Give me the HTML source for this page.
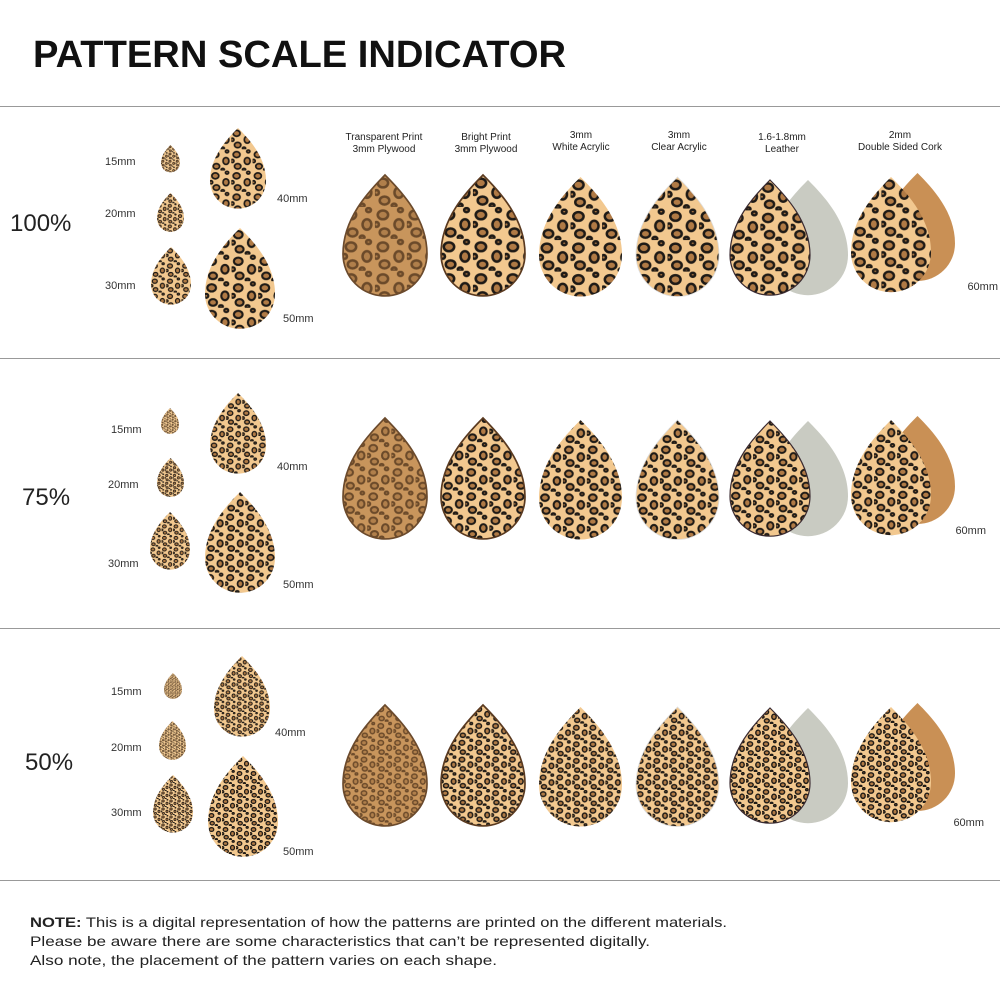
<!DOCTYPE html>
<html><head><meta charset="utf-8"><style>
body{margin:0;width:1000px;height:1000px;background:#fff;overflow:hidden;font-family:"Liberation Sans",sans-serif;}
</style></head><body>
<svg width="1000" height="1000" viewBox="0 0 1000 1000" xmlns="http://www.w3.org/2000/svg" font-family="Liberation Sans, sans-serif">
<defs>
<path id="d" d="M50 0 C30 20 0 52 0 94 A50 50 0 0 0 100 94 C100 52 70 20 50 0 Z"/>
<g id="spots">
<ellipse cx="10" cy="10" rx="6.5" ry="5.5"/><ellipse cx="30" cy="22" rx="5.5" ry="6.5"/><ellipse cx="12" cy="32" rx="6" ry="5"/><ellipse cx="32" cy="4" rx="3" ry="2.5"/><ellipse cx="24" cy="38" rx="3" ry="2"/><ellipse cx="2" cy="22" rx="3" ry="3"/>
</g>
<pattern id="pA" patternUnits="userSpaceOnUse" width="40" height="40" patternTransform="scale(0.95)">
<rect width="40" height="40" fill="#f2c88f"/><use href="#spots" fill="#b07a45" stroke="#1e1a16" stroke-width="3.2"/></pattern>
<pattern id="pB" patternUnits="userSpaceOnUse" width="40" height="40" patternTransform="scale(0.72)">
<rect width="40" height="40" fill="#f2c88f"/><use href="#spots" fill="#b07a45" stroke="#1e1a16" stroke-width="3.4"/></pattern>
<pattern id="pC" patternUnits="userSpaceOnUse" width="40" height="40" patternTransform="scale(0.5)">
<rect width="40" height="40" fill="#f2c88f"/><use href="#spots" fill="#b07a45" stroke="#1e1a16" stroke-width="3.6"/></pattern>
<pattern id="tA" patternUnits="userSpaceOnUse" width="40" height="40" patternTransform="scale(0.95)">
<rect width="40" height="40" fill="#c8955c"/><use href="#spots" fill="#b07f4b" stroke="#6b4a2a" stroke-width="3.2"/></pattern>
<pattern id="tB" patternUnits="userSpaceOnUse" width="40" height="40" patternTransform="scale(0.72)">
<rect width="40" height="40" fill="#c8955c"/><use href="#spots" fill="#b07f4b" stroke="#6b4a2a" stroke-width="3.4"/></pattern>
<pattern id="tC" patternUnits="userSpaceOnUse" width="40" height="40" patternTransform="scale(0.5)">
<rect width="40" height="40" fill="#c8955c"/><use href="#spots" fill="#b07f4b" stroke="#6b4a2a" stroke-width="3.6"/></pattern>
</defs>

<text x="33" y="67" font-size="38" font-weight="bold" fill="#111" textLength="533" lengthAdjust="spacingAndGlyphs">PATTERN SCALE INDICATOR</text>
<g stroke="#999" stroke-width="1"><line x1="0" y1="106.5" x2="1000" y2="106.5"/><line x1="0" y1="358.5" x2="1000" y2="358.5"/><line x1="0" y1="628.5" x2="1000" y2="628.5"/><line x1="0" y1="880.5" x2="1000" y2="880.5"/></g>

<g font-size="10" fill="#222" text-anchor="middle">
<text x="384" y="140">Transparent Print</text><text x="384" y="152">3mm Plywood</text>
<text x="486" y="140">Bright Print</text><text x="486" y="152">3mm Plywood</text>
<text x="581" y="138">3mm</text><text x="581" y="150">White Acrylic</text>
<text x="679" y="138">3mm</text><text x="679" y="150">Clear Acrylic</text>
<text x="782" y="140">1.6-1.8mm</text><text x="782" y="152">Leather</text>
<text x="900" y="138">2mm</text><text x="900" y="150">Double Sided Cork</text>
</g>

<g font-size="24" fill="#222"><text x="10" y="231">100%</text><text x="22" y="505">75%</text><text x="25" y="770">50%</text></g>
<g font-size="11" fill="#333">
<text x="105" y="165">15mm</text><text x="105" y="217">20mm</text><text x="105" y="289">30mm</text><text x="277" y="202">40mm</text><text x="283" y="322">50mm</text><text x="998" y="290" text-anchor="end">60mm</text>
<text x="111" y="433">15mm</text><text x="108" y="488">20mm</text><text x="108" y="567">30mm</text><text x="277" y="470">40mm</text><text x="283" y="588">50mm</text><text x="986" y="534" text-anchor="end">60mm</text>
<text x="111" y="695">15mm</text><text x="111" y="751">20mm</text><text x="111" y="816">30mm</text><text x="275" y="736">40mm</text><text x="283" y="855">50mm</text><text x="984" y="826" text-anchor="end">60mm</text>
</g>

<!-- ROW 1 -->
<g>
<use href="#d" fill="url(#pA)" transform="translate(161,145) scale(0.19)"/>
<use href="#d" fill="url(#pA)" transform="translate(157,193) scale(0.27)"/>
<use href="#d" fill="url(#pA)" transform="translate(151,247) scale(0.4)"/>
<use href="#d" fill="url(#pA)" transform="translate(210,128) scale(0.56)"/>
<use href="#d" fill="url(#pA)" transform="translate(205,228) scale(0.7)"/>
<use href="#d" fill="url(#tA)" stroke="#6b4a2c" stroke-width="2" transform="translate(343,175) scale(0.84)"/>
<use href="#d" fill="url(#pA)" stroke="#5a3a20" stroke-width="2" transform="translate(441,175) scale(0.84)"/>
<use href="#d" fill="url(#pA)" transform="translate(539,177) scale(0.83)"/>
<use href="#d" fill="url(#pA)" stroke="#ddd" stroke-width="1" transform="translate(636,177) scale(0.83)"/>
<use href="#d" fill="#c9cbc2" transform="translate(768,180) scale(0.8)"/>
<use href="#d" fill="url(#pA)" stroke="#3a2a30" stroke-width="1.5" transform="translate(730,180) scale(0.8)"/>
<use href="#d" fill="#c99055" transform="translate(880,173) scale(0.75)"/>
<use href="#d" fill="url(#pA)" transform="translate(851,177) scale(0.8)"/>
</g>
<!-- ROW 2 -->
<g>
<use href="#d" fill="url(#pB)" transform="translate(161,408) scale(0.18)"/>
<use href="#d" fill="url(#pB)" transform="translate(157,458) scale(0.27)"/>
<use href="#d" fill="url(#pB)" transform="translate(150,512) scale(0.4)"/>
<use href="#d" fill="url(#pB)" transform="translate(210,393) scale(0.56)"/>
<use href="#d" fill="url(#pB)" transform="translate(205,492) scale(0.7)"/>
<use href="#d" fill="url(#tB)" stroke="#6b4a2c" stroke-width="2" transform="translate(343,418) scale(0.84)"/>
<use href="#d" fill="url(#pB)" stroke="#5a3a20" stroke-width="2" transform="translate(441,418) scale(0.84)"/>
<use href="#d" fill="url(#pB)" transform="translate(539,420) scale(0.83)"/>
<use href="#d" fill="url(#pB)" stroke="#ddd" stroke-width="1" transform="translate(636,420) scale(0.83)"/>
<use href="#d" fill="#c9cbc2" transform="translate(768,421) scale(0.8)"/>
<use href="#d" fill="url(#pB)" stroke="#3a2a30" stroke-width="1.5" transform="translate(730,421) scale(0.8)"/>
<use href="#d" fill="#c99055" transform="translate(880,416) scale(0.75)"/>
<use href="#d" fill="url(#pB)" transform="translate(851,420) scale(0.8)"/>
</g>
<!-- ROW 3 -->
<g>
<use href="#d" fill="url(#pC)" transform="translate(164,673) scale(0.18)"/>
<use href="#d" fill="url(#pC)" transform="translate(159,721) scale(0.27)"/>
<use href="#d" fill="url(#pC)" transform="translate(153,775) scale(0.4)"/>
<use href="#d" fill="url(#pC)" transform="translate(214,656) scale(0.56)"/>
<use href="#d" fill="url(#pC)" transform="translate(208,756) scale(0.7)"/>
<use href="#d" fill="url(#tC)" stroke="#6b4a2c" stroke-width="2" transform="translate(343,705) scale(0.84)"/>
<use href="#d" fill="url(#pC)" stroke="#5a3a20" stroke-width="2" transform="translate(441,705) scale(0.84)"/>
<use href="#d" fill="url(#pC)" transform="translate(539,707) scale(0.83)"/>
<use href="#d" fill="url(#pC)" stroke="#ddd" stroke-width="1" transform="translate(636,707) scale(0.83)"/>
<use href="#d" fill="#c9cbc2" transform="translate(768,708) scale(0.8)"/>
<use href="#d" fill="url(#pC)" stroke="#3a2a30" stroke-width="1.5" transform="translate(730,708) scale(0.8)"/>
<use href="#d" fill="#c99055" transform="translate(880,703) scale(0.75)"/>
<use href="#d" fill="url(#pC)" transform="translate(851,707) scale(0.8)"/>
</g>

<g font-size="14" fill="#222">
<text x="30" y="927" textLength="697" lengthAdjust="spacingAndGlyphs"><tspan font-weight="bold">NOTE:</tspan> This is a digital representation of how the patterns are printed on the different materials.</text>
<text x="30" y="946" textLength="620" lengthAdjust="spacingAndGlyphs">Please be aware there are some characteristics that can’t be represented digitally.</text>
<text x="30" y="965" textLength="467" lengthAdjust="spacingAndGlyphs">Also note, the placement of the pattern varies on each shape.</text>
</g>
</svg>
</body></html>
